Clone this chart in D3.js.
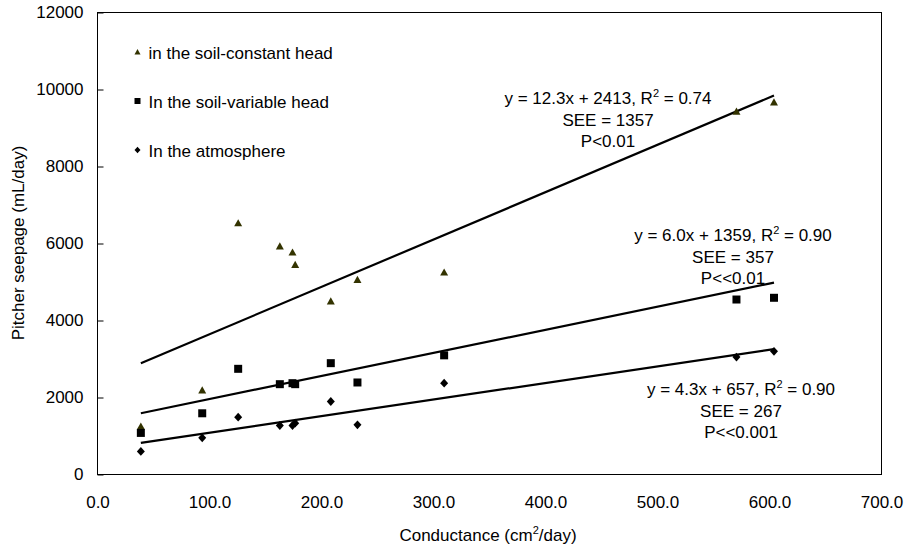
<!DOCTYPE html>
<html>
<head>
<meta charset="utf-8">
<script src="https://cdn.jsdelivr.net/npm/d3@7"></script>
<style>
  html, body { margin: 0; padding: 0; background: #fff; }
  svg { display: block; font-family: "Liberation Sans", Arial, sans-serif; }
</style>
</head>
<body>
<script>
// Conductance of each pitcher (cm²/day)
const conductance = [38.7, 93.5, 125.6, 162.8, 174.1, 176.5, 208.3, 232.1, 309.5, 570.5, 604.0];
// Pitcher seepage (mL/day) for the three set-ups
const constantHead = [1250, 2190, 6530, 5930, 5770, 5450, 4500, 5060, 5250, 9430, 9670];
const variableHead = [1080, 1590, 2745, 2346, 2372, 2346, 2892, 2390, 3095, 4545, 4590];
const atmosphere   = [600, 953, 1489, 1273, 1273, 1333, 1896, 1291, 2372, 3050, 3200];

const seriesNames = ["in the soil-constant head", "In the soil-variable head", "In the atmosphere"];

// Linear fits stated for each series
const fitSlopes     = [12.3, 6.0, 4.3];
const fitIntercepts = [2413, 1359, 657];
const fitR2         = ["0.74", "0.90", "0.90"];
const fitSEE        = ["1357", "357", "267"];
const fitP          = ["P<0.01", "P<<0.01", "P<<0.001"];

const xTicks = [0, 100, 200, 300, 400, 500, 600, 700];
const yTicks = [0, 2000, 4000, 6000, 8000, 10000, 12000];

const W = 909, H = 550;
const plot = { left: 97.5, right: 881.5, top: 12.5, bottom: 474.5 };

const svg = d3.select("body").append("svg").attr("width", W).attr("height", H);

const x = d3.scaleLinear().domain([0, 700]).range([plot.left, plot.right]);
const y = d3.scaleLinear().domain([0, 12000]).range([plot.bottom, plot.top]);

const FONT = 17;

// Plot frame
svg.append("rect")
  .attr("x", plot.left).attr("y", plot.top)
  .attr("width", plot.right - plot.left).attr("height", plot.bottom - plot.top)
  .attr("fill", "none").attr("stroke", "#000").attr("stroke-width", 1);

// Y axis (inner ticks)
const yAxis = svg.append("g")
  .attr("transform", `translate(${plot.left},0)`)
  .call(d3.axisLeft(y).tickValues(yTicks).tickFormat(d3.format("d"))
    .tickSizeInner(-6).tickSizeOuter(0).tickPadding(14));
yAxis.select(".domain").remove();
yAxis.selectAll("line").attr("stroke", "#000");
yAxis.selectAll("text").attr("font-size", FONT).attr("font-family", "Liberation Sans, Arial, sans-serif").attr("fill", "#000");

// X axis
const xAxis = svg.append("g")
  .attr("transform", `translate(0,${plot.bottom})`)
  .call(d3.axisBottom(x).tickValues(xTicks).tickFormat(d3.format(".1f"))
    .tickSize(0).tickPadding(21));
xAxis.select(".domain").remove();
xAxis.selectAll("text").attr("font-size", FONT).attr("font-family", "Liberation Sans, Arial, sans-serif").attr("fill", "#000");

// Axis titles
const xt = svg.append("text")
  .attr("x", 488).attr("y", 541)
  .attr("text-anchor", "middle").attr("font-size", FONT);
xt.append("tspan").text("Conductance (cm");
xt.append("tspan").attr("dy", -7).attr("font-size", 11).text("2");
xt.append("tspan").attr("dy", 7).text("/day)");

svg.append("text")
  .attr("transform", `translate(24,243) rotate(-90)`)
  .attr("text-anchor", "middle").attr("font-size", FONT)
  .text("Pitcher seepage (mL/day)");

// Marker shapes
function trianglePath(s) {
  const h = s * 0.9;
  return `M0,${-h * 0.55}L${s / 2},${h * 0.45}L${-s / 2},${h * 0.45}Z`;
}
function squarePath(s) {
  const r = s / 2;
  return `M${-r},${-r}H${r}V${r}H${-r}Z`;
}
function diamondPath(s) {
  const rx = s / 2, ry = s * 0.55;
  return `M0,${-ry}L${rx},0L0,${ry}L${-rx},0Z`;
}
const shapes = [trianglePath, squarePath, diamondPath];
const colors = ["#333300", "#000", "#000"];
const seriesValues = [constantHead, variableHead, atmosphere];

// Regression lines over the measured conductance range
const xMin = d3.min(conductance), xMax = d3.max(conductance);
const line = d3.line().x(d => x(d[0])).y(d => y(d[1]));
fitSlopes.forEach((m, i) => {
  const b = fitIntercepts[i];
  svg.append("path")
    .attr("d", line([[xMin, m * xMin + b], [xMax, m * xMax + b]]))
    .attr("fill", "none").attr("stroke", "#000").attr("stroke-width", 2.2);
});

// Data points
seriesValues.forEach((vals, i) => {
  svg.append("g").selectAll("path")
    .data(vals.map((v, j) => [conductance[j], v]))
    .join("path")
    .attr("transform", d => `translate(${x(d[0])},${y(d[1])})`)
    .attr("d", shapes[i](8))
    .attr("fill", colors[i]);
});

// Legend
const legendRows = [52, 101, 150];
seriesNames.forEach((name, i) => {
  const g = svg.append("g").attr("transform", `translate(137.5,${legendRows[i]})`);
  g.append("path").attr("d", shapes[i](6)).attr("fill", colors[i]);
  g.append("text").attr("x", 11).attr("y", 6.5).attr("font-size", FONT).text(name);
});

// Fit annotations
const annotations = [
  { cx: 608, top: 104 },
  { cx: 733, top: 241 },
  { cx: 741, top: 395 }
];
annotations.forEach((a, i) => {
  const t = svg.append("text").attr("x", a.cx).attr("y", a.top)
    .attr("text-anchor", "middle").attr("font-size", FONT);
  t.append("tspan").text(`y = ${fitSlopes[i].toFixed(1)}x + ${fitIntercepts[i]}, R`);
  t.append("tspan").attr("dy", -7).attr("font-size", 11).text("2");
  t.append("tspan").attr("dy", 7).text(` = ${fitR2[i]}`);
  svg.append("text").attr("x", a.cx).attr("y", a.top + 21.7)
    .attr("text-anchor", "middle").attr("font-size", FONT).text(`SEE = ${fitSEE[i]}`);
  svg.append("text").attr("x", a.cx).attr("y", a.top + 43.3)
    .attr("text-anchor", "middle").attr("font-size", FONT).text(fitP[i]);
});
</script>
</body>
</html>
